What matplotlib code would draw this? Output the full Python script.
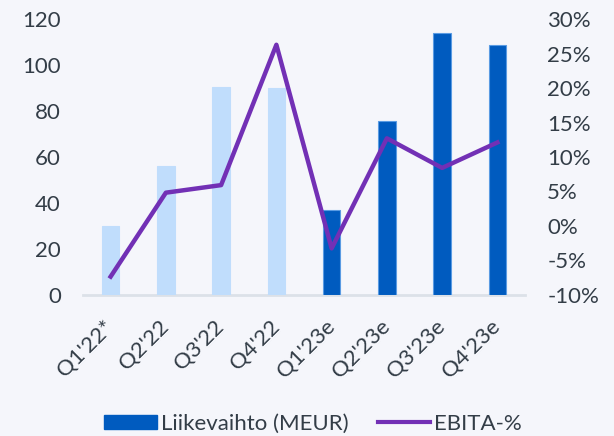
import numpy as np
import matplotlib.pyplot as plt
from matplotlib.patches import Patch
from matplotlib.lines import Line2D

plt.rcParams['font.family'] = ['Lato', 'DejaVu Sans']

# Data
quarters = ["Q1'22*", "Q2'22", "Q3'22", "Q4'22", "Q1'23e", "Q2'23e", "Q3'23e", "Q4'23e"]
revenue = [30, 56, 90.3, 90, 37, 75.7, 113.9, 108.8]
ebita_pct = [-7.4, 4.8, 5.9, 26.3, -3.3, 12.7, 8.4, 12.1]
is_estimate = [False, False, False, False, True, True, True, True]

bg = '#F5F6FB'
txt = '#333D47'
light_blue = '#C0DDFC'
dark_blue = '#005BBF'
purple = '#7230B5'
fs = 16

fig = plt.figure(figsize=(6.14, 4.36), dpi=100, facecolor=bg)
ax = fig.add_axes([83 / 614, 1 - 294.5 / 436, (525 - 83) / 614, (294.5 - 19.3) / 436])
ax.set_facecolor(bg)

x = np.arange(len(quarters))
colors = [dark_blue if e else light_blue for e in is_estimate]
edges = ['#5A9BE3' if e else light_blue for e in is_estimate]
ax.bar(x, revenue, width=0.32, color=colors, edgecolor=edges, linewidth=0.8, zorder=2)

ax.set_xlim(-0.5, 7.5)
ax.set_ylim(0, 120)
ax.set_yticks(np.arange(0, 121, 20))

for s in ['top', 'right', 'left']:
    ax.spines[s].set_visible(False)
ax.spines['bottom'].set_color('#DCE1E8')
ax.spines['bottom'].set_linewidth(2)
ax.spines['bottom'].set_zorder(1)

ax.tick_params(axis='y', length=0, pad=16, labelsize=fs, labelcolor=txt)
ax.tick_params(axis='x', length=0, pad=21, labelsize=fs, labelcolor=txt)
ax.set_xticks(x)
ax.set_xticklabels(quarters, rotation=45, ha='right', va='center', rotation_mode='anchor')

ax2 = ax.twinx()
ax2.plot(x, ebita_pct, color=purple, linewidth=3.2, zorder=3)
ax2.set_ylim(-10, 30)
ax2.set_yticks(np.arange(-10, 31, 5))
ax2.set_yticklabels([f'{v}%' for v in range(-10, 31, 5)])
for s in ax2.spines.values():
    s.set_visible(False)
ax2.tick_params(axis='y', length=0, pad=16, labelsize=fs, labelcolor=txt)

# Legend
handles = [Patch(facecolor=dark_blue, edgecolor=dark_blue),
           Line2D([0], [0], color=purple, linewidth=3)]
leg = fig.legend(handles, ['Liikevaihto (MEUR)', 'EBITA-%'], loc='center',
                 bbox_to_anchor=(0.51, 1 - 424 / 436), ncol=2, frameon=False,
                 fontsize=fs, handlelength=2.35, handleheight=0.63,
                 handletextpad=0.2, columnspacing=1.3, labelcolor=txt)

fig.savefig('out.png', dpi=100, facecolor=bg)
